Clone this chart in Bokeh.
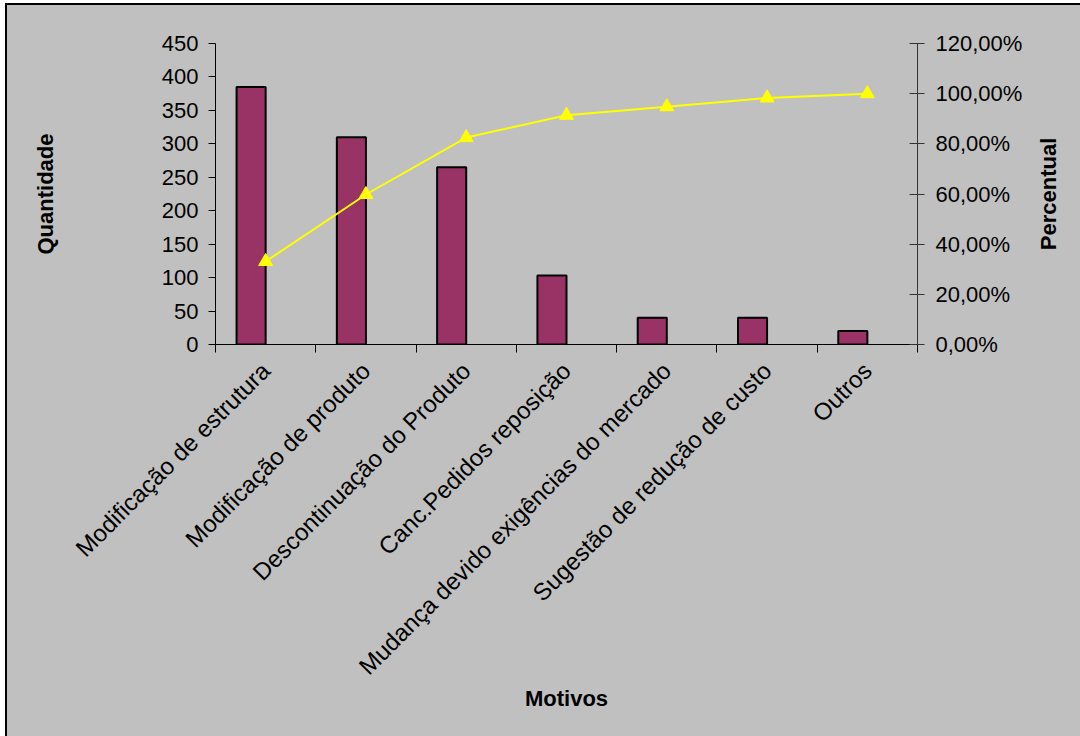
import math
from bokeh.plotting import figure
from bokeh.layouts import row
from bokeh.models import (ColumnDataSource, Range1d, LinearAxis, FixedTicker)
from bokeh.core.properties import value
from bokeh.transform import dodge
from bokeh.embed import file_html
from bokeh.resources import INLINE

# ---- data ----
categories = ["Modificação de estrutura", "Modificação de produto",
              "Descontinuação do Produto", "Canc.Pedidos reposição",
              "Mudança devido exigências do mercado",
              "Sugestão de redução de custo", "Outros"]
quantidade = [385, 310, 265, 103, 40, 40, 20]
percentual = [33.1, 59.8, 82.5, 91.4, 94.8, 98.3, 100.0]

qty_ticks = [0, 50, 100, 150, 200, 250, 300, 350, 400, 450]
pct_ticks = [0, 20, 40, 60, 80, 100, 120]
pct_labels = ["0,00%", "20,00%", "40,00%", "60,00%", "80,00%", "100,00%", "120,00%"]

n = len(categories)
centers = [i + 0.5 for i in range(n)]          # category slot centres
boundaries = [float(i) for i in range(n + 1)]  # category slot edges

BG = "#C0C0C0"
FONT = "Liberation Sans"

src = ColumnDataSource(dict(x=centers, qty=quantidade, pct=percentual))

p = figure(x_range=Range1d(0, n), y_range=Range1d(0, 450),
           frame_width=702, frame_height=301,
           min_border_left=208, min_border_right=111,
           min_border_top=38, min_border_bottom=392,
           x_axis_location=None, y_axis_location=None,
           output_backend="svg", toolbar_location=None,
           background_fill_color=BG, border_fill_color=BG,
           outline_line_color=None)

p.extra_y_ranges = {"pct": Range1d(0, 120)}

# grid: only a gray line at the top
p.xgrid.grid_line_color = None
p.ygrid.ticker = FixedTicker(ticks=[450])
p.ygrid.grid_line_color = "#808080"
p.ygrid.grid_line_width = 1

# bars
p.vbar(x=dodge("x", -0.145), top="qty", width=0.29, source=src,
       fill_color="#993366", line_color="black", line_width=2)

# cumulative line
p.line(x="x", y="pct", source=src, y_range_name="pct",
       line_color="#FFFF00", line_width=2)
p.scatter(x="x", y="pct", source=src, y_range_name="pct", marker="triangle",
          size=14, fill_color="#FFFF00", line_color="#FFFF00")

def style_axis(ax, size="22px"):
    ax.major_label_text_font = FONT
    ax.major_label_text_font_size = size
    ax.major_label_text_color = "black"
    ax.axis_label_text_font = FONT
    ax.axis_label_text_font_size = "22px"
    ax.axis_label_text_font_style = "bold"
    ax.axis_label_text_color = "black"
    ax.minor_tick_line_color = None

# left axis
left = LinearAxis(ticker=FixedTicker(ticks=qty_ticks), axis_label="Quantidade")
style_axis(left)
left.axis_line_color = "black"
left.major_tick_line_color = "black"
left.major_tick_in = 0
left.major_tick_out = 7
left.major_label_standoff = 10
left.axis_label_standoff = 101
p.add_layout(left, "left")

# right axis
right = LinearAxis(y_range_name="pct", ticker=FixedTicker(ticks=pct_ticks),
                   major_label_overrides={t: l for t, l in zip(pct_ticks, pct_labels)})
style_axis(right)
right.axis_line_color = "#333333"
right.major_tick_line_color = "#333333"
right.major_tick_in = 8
right.major_tick_out = 7
right.major_label_standoff = 11
p.add_layout(right, "right")

# bottom: category labels at slot centres, tick marks at slot edges
cat_axis = LinearAxis(ticker=FixedTicker(ticks=centers, minor_ticks=boundaries),
                      axis_label="Motivos",
                      major_label_overrides={c: l for c, l in zip(centers, categories)})
style_axis(cat_axis, size="24px")
cat_axis.axis_line_color = "black"
cat_axis.major_tick_line_color = None
cat_axis.major_tick_out = 0
cat_axis.major_tick_in = 0
cat_axis.minor_tick_line_color = "black"
cat_axis.minor_tick_out = 8
cat_axis.minor_tick_in = 0
cat_axis.major_label_orientation = math.pi / 4
cat_axis.major_label_standoff = 14
cat_axis.axis_label_standoff = -6
p.add_layout(cat_axis, "below")

# right-hand title strip: "Percentual" reading bottom to top, centred on the frame
pt = figure(x_range=Range1d(0, 1), y_range=p.y_range,
            frame_width=40, frame_height=301,
            min_border_left=0, min_border_right=12,
            min_border_top=38, min_border_bottom=392,
            x_axis_location=None, y_axis_location=None,
            output_backend="svg", toolbar_location=None,
            background_fill_color=BG, border_fill_color=BG,
            outline_line_color=None)
pt.xgrid.grid_line_color = None
pt.ygrid.grid_line_color = None
pt.text(x=[0.5], y=[(p.y_range.start + p.y_range.end) / 2], text=["Percentual"],
        angle=math.pi / 2, text_align="center", text_baseline="middle",
        text_font=value(FONT), text_font_size=value("22px"),
        text_font_style="bold", text_color="black")

layout = row(p, pt, spacing=0, margin=(3, 0, 0, 5),
             styles={"border-left": "2px solid black", "border-top": "2px solid black",
                     "background-color": BG})

open("out.html", "w").write(file_html(layout, INLINE))
